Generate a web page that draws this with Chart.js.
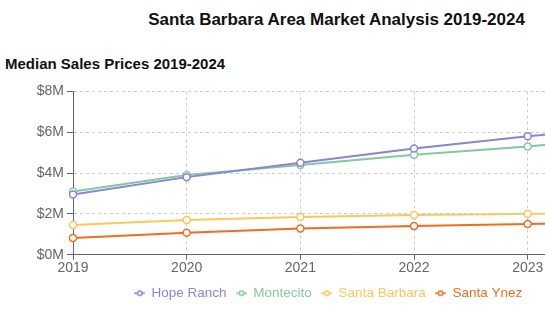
<!DOCTYPE html>
<html>
<head>
<title>Santa Barbara Area Market Analysis 2019-2024</title>
<style>
html, body { margin:0; padding:0; overflow:hidden; background:#fff; }
body { width:545px; height:321px; position:relative; font-family: Helvetica, Arial, "Liberation Sans", sans-serif; }
#title { position:absolute; left:0; top:10px; width:673px; text-align:center; margin:0; font-size:17px; font-weight:bold; color:#111; }
#sub { position:absolute; left:5px; top:55px; margin:0; font-size:15px; font-weight:bold; color:#111; }
#wrap { position:absolute; left:0; top:80px; width:657px; height:230px; }
</style>
</head>
<body>
<h1 id="title">Santa Barbara Area Market Analysis 2019-2024</h1>
<h2 id="sub">Median Sales Prices 2019-2024</h2>
<div id="wrap"><canvas id="chartPrices"></canvas></div>
<script src="https://cdn.jsdelivr.net/npm/chart.js@4.4.1/dist/chart.umd.min.js"></script>
<script>
// data in $
let years = ['2019', '2020', '2021', '2022', '2023', '2024'];
let hopeRanch = [2950000, 3800000, 4500000, 5200000, 5800000, 6300000];
let montecito = [3100000, 3900000, 4400000, 4900000, 5300000, 5800000];
let santaBarbara = [1450000, 1700000, 1850000, 1950000, 2000000, 2050000];
let santaYnez = [820000, 1080000, 1280000, 1400000, 1500000, 1600000];
let names = ['Hope Ranch', 'Montecito', 'Santa Barbara', 'Santa Ynez'];
let colors = ['#8884d8', '#82ca9d', '#ffc658', '#f26b21'];

// legend icon: short line with a hollow circle in the middle
function legendIcon(col) {
  let c = document.createElement('canvas');
  c.width = 11; c.height = 8;
  let x = c.getContext('2d');
  x.strokeStyle = col; x.lineWidth = 1.5;
  x.beginPath(); x.moveTo(0, 4); x.lineTo(11, 4); x.stroke();
  x.fillStyle = '#fff';
  x.beginPath(); x.arc(5.5, 4, 2.3, 0, Math.PI * 2); x.fill(); x.stroke();
  return c;
}

let series = [hopeRanch, montecito, santaBarbara, santaYnez];
let datasets = series.map(function(s, i) {
  return {
    label: names[i],
    data: s,
    borderColor: colors[i],
    backgroundColor: '#fff',
    borderWidth: 2,
    pointRadius: 3.5,
    pointBorderWidth: 1.5,
    pointBackgroundColor: '#fff',
    pointBorderColor: colors[i],
    tension: 0
  };
});

let font = { family: 'Helvetica, Arial, "Liberation Sans", sans-serif', size: 14 };

new Chart(document.getElementById('chartPrices').getContext('2d'), {
  type: 'line',
  data: { labels: years, datasets: datasets },
  options: {
    responsive: true,
    maintainAspectRatio: false,
    animation: false,
    layout: { padding: { left: 0, right: 0, top: 8, bottom: 0 } },
    plugins: {
      tooltip: { enabled: false },
      legend: {
        position: 'bottom',
        labels: {
          usePointStyle: true,
          boxWidth: 10,
          padding: 10,
          font: { family: font.family, size: 13.5 },
          generateLabels: function(chart) {
            return chart.data.datasets.map(function(d, i) {
              return {
                text: d.label,
                fontColor: colors[i],
                pointStyle: legendIcon(colors[i]),
                fillStyle: '#fff',
                strokeStyle: colors[i],
                lineWidth: 0,
                datasetIndex: i
              };
            });
          }
        }
      }
    },
    scales: {
      x: {
        offset: false,
        grid: { color: '#ccc', borderDash: [3, 3], tickBorderDash: [], tickColor: '#666', tickLength: 5 },
        border: { color: '#666', dash: [3, 3] },
        ticks: { color: '#666', font: font, padding: 0, maxRotation: 0 }
      },
      y: {
        min: 0, max: 8000000,
        afterFit: function(scale) { scale.width = 73; },
        grid: { color: '#ccc', tickBorderDash: [], tickColor: '#666', tickLength: 6 },
        border: { color: '#666', dash: [3, 3] },
        ticks: {
          stepSize: 2000000, color: '#666', font: font, padding: 3,
          callback: function(v) { return '$' + (v / 1000000) + 'M'; }
        }
      }
    }
  }
});
</script>
</body>
</html>
